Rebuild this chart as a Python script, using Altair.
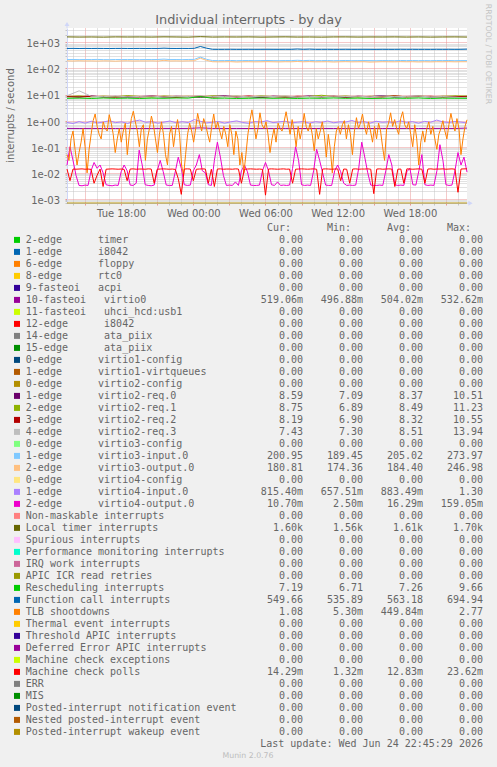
import altair as alt
import pandas as pd

NB = "\u00a0"
FONT = "DejaVu Sans"
MONO = "DejaVu Sans Mono"
TXT = "#666666"

T_START = "2026-06-23 13:30:00"
T_END = "2026-06-24 22:45:00"
Y_DOMAIN = [7.0e-4, 3550.0]

# ---------------- legend table ----------------
legend_labels = [
    "2-edge      timer", "1-edge      i8042", "6-edge      floppy", "8-edge      rtc0",
    "9-fasteoi   acpi", "10-fasteoi   virtio0", "11-fasteoi   uhci_hcd:usb1", "12-edge      i8042",
    "14-edge      ata_piix", "15-edge      ata_piix", "0-edge      virtio1-config",
    "1-edge      virtio1-virtqueues", "0-edge      virtio2-config", "1-edge      virtio2-req.0",
    "2-edge      virtio2-req.1", "3-edge      virtio2-req.2", "4-edge      virtio2-req.3",
    "0-edge      virtio3-config", "1-edge      virtio3-input.0", "2-edge      virtio3-output.0",
    "0-edge      virtio4-config", "1-edge      virtio4-input.0", "2-edge      virtio4-output.0",
    "Non-maskable interrupts", "Local timer interrupts", "Spurious interrupts",
    "Performance monitoring interrupts", "IRQ work interrupts", "APIC ICR read retries",
    "Rescheduling interrupts", "Function call interrupts", "TLB shootdowns",
    "Thermal event interrupts", "Threshold APIC interrupts", "Deferred Error APIC interrupts",
    "Machine check exceptions", "Machine check polls", "ERR", "MIS",
    "Posted-interrupt notification event", "Nested posted-interrupt event",
    "Posted-interrupt wakeup event",
]
legend_colors = [
    "#00CC00", "#0066B3", "#FF8000", "#FFCC00", "#330099", "#990099", "#CCFF00", "#FF0000",
    "#808080", "#008F00", "#00487D", "#B35A00", "#B38F00", "#6B006B", "#8FB300", "#B30000",
    "#BEBEBE", "#80FF80", "#80C9FF", "#FFC080", "#FFE680", "#AA80FF", "#EE00CC", "#FF8080",
    "#666600", "#FFBFFF", "#00FFCC", "#CC6699", "#999900", "#00CC00", "#0066B3", "#FF8000",
    "#FFCC00", "#330099", "#990099", "#CCFF00", "#FF0000", "#808080", "#008F00", "#00487D",
    "#B35A00", "#B38F00",
]
cur_values = [
    "0.00", "0.00", "0.00", "0.00", "0.00", "519.06m", "0.00", "0.00", "0.00", "0.00",
    "0.00", "0.00", "0.00", "8.59", "8.75", "8.19", "7.43", "0.00", "200.95", "180.81",
    "0.00", "815.40m", "10.70m", "0.00", "1.60k", "0.00", "0.00", "0.00", "0.00", "7.19",
    "549.66", "1.08", "0.00", "0.00", "0.00", "0.00", "14.29m", "0.00", "0.00", "0.00",
    "0.00", "0.00",
]
min_values = [
    "0.00", "0.00", "0.00", "0.00", "0.00", "496.88m", "0.00", "0.00", "0.00", "0.00",
    "0.00", "0.00", "0.00", "7.09", "6.89", "6.90", "7.30", "0.00", "189.45", "174.36",
    "0.00", "657.51m", "2.50m", "0.00", "1.56k", "0.00", "0.00", "0.00", "0.00", "6.71",
    "535.89", "5.30m", "0.00", "0.00", "0.00", "0.00", "1.32m", "0.00", "0.00", "0.00",
    "0.00", "0.00",
]
avg_values = [
    "0.00", "0.00", "0.00", "0.00", "0.00", "504.02m", "0.00", "0.00", "0.00", "0.00",
    "0.00", "0.00", "0.00", "8.37", "8.49", "8.32", "8.51", "0.00", "205.02", "184.40",
    "0.00", "883.49m", "16.29m", "0.00", "1.61k", "0.00", "0.00", "0.00", "0.00", "7.26",
    "563.18", "449.84m", "0.00", "0.00", "0.00", "0.00", "12.83m", "0.00", "0.00", "0.00",
    "0.00", "0.00",
]
max_values = [
    "0.00", "0.00", "0.00", "0.00", "0.00", "532.62m", "0.00", "0.00", "0.00", "0.00",
    "0.00", "0.00", "0.00", "10.51", "11.23", "10.55", "13.94", "0.00", "273.97", "246.98",
    "0.00", "1.30", "159.05m", "0.00", "1.70k", "0.00", "0.00", "0.00", "0.00", "9.66",
    "694.94", "2.77", "0.00", "0.00", "0.00", "0.00", "23.62m", "0.00", "0.00", "0.00",
    "0.00", "0.00",
]
header_labels = ["Cur:", "Min:", "Avg:", "Max:"]
last_update = "Last update: Wed Jun 24 22:45:29 2026"

# ---------------- series ----------------
local_timer = [1620, 1600, 1610, 1590, 1620, 1605, 1615, 1600, 1625, 1610, 1590, 1650,
               1600, 1615, 1605, 1620, 1595, 1610, 1625, 1600, 1610, 1590, 1615, 1620,
               1600, 1610, 1605, 1620, 1600, 1615, 1595, 1610, 1620, 1600]
function_call = [585, 588, 583, 586, 584, 587, 585, 582, 586, 588, 584, 585, 587, 583, 586, 585,
                 600, 586, 584, 587, 585, 592, 695, 600,
                 541, 539, 540, 542, 538, 540, 541, 539, 540, 542, 540, 539, 541, 540, 555,
                 540, 550, 539, 540, 541, 538, 540, 542, 539, 540, 541, 540, 538, 541, 540,
                 539, 542, 540, 541, 539, 540, 538, 541, 540, 542, 539, 541, 549.66]
virtio3_input = [219, 221, 218, 220, 219, 222, 218, 217, 220, 219, 221, 219, 218, 220, 219, 221,
                 228, 219, 220, 218, 221, 222, 274, 225,
                 201, 199, 200, 202, 198, 200, 201, 199, 200, 202, 200, 199, 201, 200, 206,
                 200, 204, 199, 200, 201, 198, 200, 202, 199, 200, 201, 200, 198, 201, 200,
                 199, 202, 200, 201, 199, 200, 198, 201, 200, 202, 199, 201, 200.95]
virtio3_output = [196, 193, 197, 194, 195, 192, 196, 194, 190, 195, 197, 193, 195, 194, 196, 192,
                  205, 194, 195, 193, 196, 198, 247, 205,
                  181, 179, 180, 182, 176, 180, 181, 179, 180, 182, 180, 178, 181, 180, 185,
                  180, 183, 179, 180, 181, 176, 180, 182, 179, 180, 181, 175, 178, 181, 180,
                  179, 182, 180, 181, 177, 180, 178, 181, 180, 182, 179, 181, 180.81]
virtio0 = [0.505, 0.503, 0.506, 0.502, 0.504, 0.505, 0.503, 0.504, 0.506, 0.502, 0.505, 0.53,
           0.505, 0.503, 0.504, 0.502, 0.505, 0.503, 0.506, 0.504, 0.502, 0.505, 0.503, 0.504,
           0.506, 0.502, 0.504, 0.503, 0.505, 0.502, 0.504, 0.506, 0.503, 0.519]
virtio2_req0 = [8.6, 8.2, 8.9, 8.1, 8.5, 7.9, 8.4, 8.8, 8.0, 8.6, 8.3, 7.8, 8.5, 9.0, 8.2, 8.4,
                7.6, 8.7, 8.3, 8.1, 8.9, 8.2, 8.5, 7.9, 8.6, 8.3, 9.2, 8.0, 8.4, 8.7, 8.1, 8.5,
                8.2, 8.59]
virtio2_req1 = [8.4, 8.9, 8.2, 8.7, 8.3, 9.1, 8.5, 8.0, 8.8, 8.4, 8.6, 8.2, 9.0, 8.3, 8.7, 8.1,
                8.9, 8.4, 8.6, 8.2, 8.5, 9.4, 8.3, 8.8, 8.0, 8.6, 8.4, 8.9, 8.2, 8.7, 8.3, 8.6,
                8.9, 8.75]
virtio2_req2 = [8.3, 8.0, 8.6, 8.2, 7.9, 8.5, 8.1, 8.7, 8.3, 7.8, 8.4, 8.6, 8.0, 8.5, 8.2, 8.8,
                8.1, 8.3, 7.9, 8.6, 8.4, 8.2, 8.7, 8.0, 8.5, 8.3, 8.1, 8.9, 8.2, 8.4, 8.6, 8.0,
                8.5, 8.19]
virtio2_req3 = [9.0, 13.9, 8.6, 8.3, 8.8, 8.2, 8.5, 8.7, 8.1, 8.6, 8.4, 8.9, 8.3, 8.5, 8.7, 8.2,
                8.6, 8.4, 8.8, 8.1, 8.5, 8.3, 8.7, 8.4, 8.6, 8.2, 8.8, 8.3, 8.5, 8.7, 8.2, 8.4,
                8.0, 7.43]
rescheduling = [7.2, 7.3, 7.1, 7.4, 7.2, 7.3, 7.1, 7.3, 7.2, 7.4, 7.3, 8.4, 7.2, 7.3, 7.1, 7.2,
                7.4, 7.2, 7.3, 7.1, 7.3, 7.2, 7.4, 7.2, 7.3, 7.1, 7.2, 7.3, 7.2, 7.4, 7.1, 7.3,
                7.2, 7.19]
virtio4_input = [0.85, 0.78, 0.92, 0.80, 0.95, 0.82, 0.88, 1.0, 0.84, 0.90,
                 0.78, 0.95, 1.05, 0.86, 0.92, 0.80, 0.88, 0.97, 0.83, 0.91,
                 0.85, 1.1, 0.95, 0.82, 0.87, 0.93, 0.80, 0.9, 0.98, 0.85,
                 0.79, 0.92, 0.88, 1.0, 0.84, 0.9, 0.95, 0.82, 0.87, 0.93,
                 0.8, 0.91, 0.86, 0.97, 0.83, 0.9, 0.88, 1.02, 0.85, 0.92,
                 0.8, 0.95, 0.87, 0.9, 0.84, 0.98, 0.86, 0.92, 0.8, 0.94,
                 0.87, 1.05, 0.9, 0.85, 0.93, 0.88, 0.815]
virtio4_output = [0.02, 0.1, 0.03, 0.008, 0.0033, 0.0032, 0.0034, 0.0033, 0.012, 0.025,
                  0.015, 0.02, 0.01, 0.0035, 0.0033, 0.0032, 0.0034, 0.0033, 0.011, 0.02,
                  0.012, 0.0034, 0.0033, 0.004, 0.074, 0.02, 0.0035, 0.0033, 0.0032, 0.0034,
                  0.012, 0.03, 0.011, 0.0034, 0.0033, 0.0033, 0.011, 0.04, 0.015, 0.0035,
                  0.0033, 0.0034, 0.012, 0.02, 0.05, 0.012, 0.01, 0.0035, 0.0033, 0.03,
                  0.15, 0.04, 0.008, 0.0033, 0.0034, 0.0033, 0.0045, 0.0033, 0.012, 0.02,
                  0.011, 0.0034, 0.0033, 0.0033, 0.0034, 0.012, 0.025, 0.012, 0.0035, 0.0033,
                  0.0045, 0.0033, 0.0034, 0.0033, 0.0034, 0.015, 0.1, 0.03, 0.0035, 0.0033,
                  0.0034, 0.0033, 0.012, 0.08, 0.03, 0.01, 0.0034, 0.0033, 0.0033, 0.012,
                  0.02, 0.011, 0.004, 0.0033, 0.0034, 0.0033, 0.0034, 0.015, 0.15, 0.04,
                  0.01, 0.0034, 0.0033, 0.0033, 0.0034, 0.0033, 0.012, 0.05, 0.02, 0.0035,
                  0.0033, 0.0034, 0.0033, 0.011, 0.015, 0.0035, 0.0034, 0.012, 0.05, 0.0035,
                  0.0033, 0.0034, 0.0033, 0.012, 0.12, 0.03, 0.0035, 0.0033, 0.0034, 0.012,
                  0.06, 0.02, 0.04, 0.0107]
tlb_shootdowns = [0.05, 0.03, 0.2, 0.4, 0.08, 0.02, 0.06, 0.15, 0.5, 0.1,
                  0.01, 0.08, 0.3, 1.0, 1.8, 0.6, 0.3, 0.2, 0.9, 0.5,
                  0.4, 1.7, 0.8, 0.3, 0.06, 0.2, 0.5, 0.15, 0.4, 0.8,
                  0.05, 0.3, 1.2, 2.3, 0.9, 0.4, 0.1, 0.5, 0.7, 0.03,
                  0.2, 0.5, 1.5, 0.7, 0.2, 0.06, 0.3, 0.9, 0.3, 0.05,
                  0.02, 0.3, 0.6, 0.1, 0.4, 1.1, 0.3, 0.02, 0.008, 0.05,
                  0.3, 0.8, 0.4, 0.15, 0.5, 1.9, 0.8, 0.4, 1.2, 0.7,
                  0.3, 0.15, 0.6, 1.8, 0.5, 0.9, 0.4, 0.2, 0.6, 0.3,
                  0.1, 0.7, 0.3, 0.05, 0.4, 0.2, 0.02, 0.06, 0.01, 0.05,
                  0.3, 1.0, 2.6, 0.8, 0.2, 0.5, 2.0, 0.7, 0.5, 0.9,
                  0.3, 0.06, 0.2, 0.5, 0.15, 0.8, 0.5, 0.4, 0.9, 2.2,
                  0.8, 0.3, 1.1, 0.4, 0.1, 0.6, 0.2, 0.5, 1.9, 0.6,
                  0.4, 0.8, 0.3, 0.07, 0.5, 0.2, 0.4, 0.9, 0.3, 0.04,
                  0.3, 0.08, 0.01, 0.1, 0.4, 0.6, 0.3, 0.7, 1.0, 0.2,
                  0.7, 0.3, 0.05, 0.4, 1.3, 0.5, 0.8, 1.8, 0.6, 0.3,
                  0.9, 0.4, 0.15, 0.6, 0.2, 0.8, 0.4, 0.1, 0.03, 0.5,
                  0.8, 2.0, 0.6, 1.1, 0.5, 0.3, 1.2, 2.2, 0.7, 0.5,
                  0.9, 0.3, 0.1, 0.7, 0.2, 0.02, 0.15, 0.4, 0.15, 0.5,
                  0.9, 0.3, 0.6, 0.2, 0.08, 0.3, 0.5, 1.0, 0.4, 0.2,
                  0.7, 1.9, 0.8, 0.4, 1.2, 0.5, 0.05, 0.2, 0.6, 1.08]
machine_check_polls = [0.014, 0.005, 0.014, 0.0138, 0.014, 0.0142, 0.0138, 0.014, 0.0136, 0.004,
                       0.008, 0.014, 0.003, 0.0138, 0.014, 0.0142, 0.014, 0.0138, 0.014, 0.0136,
                       0.005, 0.014, 0.0142, 0.0138, 0.014, 0.014, 0.0138, 0.0142, 0.014, 0.004,
                       0.0138, 0.014, 0.0142, 0.014, 0.0138, 0.014, 0.0136, 0.006, 0.0015, 0.014,
                       0.0142, 0.014, 0.005, 0.0138, 0.014, 0.0142, 0.014, 0.004, 0.0138, 0.003,
                       0.014, 0.0142, 0.0138, 0.014, 0.014, 0.0138, 0.0142, 0.014, 0.004, 0.0138,
                       0.014, 0.0142, 0.014, 0.0138, 0.014, 0.0136, 0.0014, 0.014, 0.0142, 0.014,
                       0.0138, 0.014, 0.0142, 0.0138, 0.014, 0.004, 0.0138, 0.014, 0.0142, 0.014,
                       0.0138, 0.014, 0.0142, 0.0138, 0.0015, 0.014, 0.0142, 0.014, 0.0138, 0.014,
                       0.0142, 0.005, 0.014, 0.0138, 0.004, 0.014, 0.0142, 0.0138, 0.014, 0.014,
                       0.0142, 0.0138, 0.0016, 0.014, 0.0142, 0.0138, 0.014, 0.0142, 0.014, 0.003,
                       0.0138, 0.014, 0.004, 0.0142, 0.014, 0.0138, 0.014, 0.0142, 0.0138, 0.004,
                       0.014, 0.0142, 0.0138, 0.014, 0.014, 0.0142, 0.0138, 0.014, 0.0142, 0.0138,
                       0.0018, 0.014, 0.0142, 0.0143]

# drawing order follows the legend order; number = legend row (colour)
series_order = [
    (virtio0, 5), (virtio2_req0, 13), (virtio2_req1, 14), (virtio2_req2, 15),
    (virtio2_req3, 16), (virtio3_input, 18), (virtio3_output, 19), (virtio4_input, 21),
    (virtio4_output, 22), (local_timer, 24), (rescheduling, 29), (function_call, 30),
    (tlb_shootdowns, 31), (machine_check_polls, 36),
]


def frame(values):
    return pd.DataFrame({"t": pd.date_range(T_START, T_END, periods=len(values)), "v": values})


# ---------------- scales & axes ----------------
x_scale = alt.Scale(domain=[alt.DateTime(year=2026, month=6, date=23, hours=13, minutes=30),
                            alt.DateTime(year=2026, month=6, date=24, hours=22, minutes=45)],
                    nice=False)
y_scale = alt.Scale(type="log", domain=Y_DOMAIN, nice=False)

x_ticks = [alt.DateTime(year=2026, month=6, date=23 + h // 24, hours=h % 24) for h in range(14, 47)]
y_ticks = [k * 10.0 ** e for e in range(-4, 4) for k in range(1, 10)
           if Y_DOMAIN[0] <= k * 10.0 ** e <= Y_DOMAIN[1]]

MAJ_X = "hours(datum.value) % 3 == 0"
LOG = "(log(datum.value)/LN10)"
MAJ_Y = f"abs({LOG} - round({LOG})) < 0.001"
RED = "#eb9595"
GRAY = "#c4c4c4"

x_axis = alt.Axis(
    values=x_ticks, title=None, grid=True,
    gridColor={"condition": {"test": MAJ_X, "value": RED}, "value": GRAY},
    gridDash=[1, 1], gridWidth=1,
    ticks=True, tickSize=2, tickColor={"condition": {"test": MAJ_X, "value": RED}, "value": GRAY},
    domain=True, domainColor="#CFD6F8",
    labelExpr="hours(datum.value) % 6 == 0 ? timeFormat(datum.value, '%a %H:%M') : ''",
    labelFont=FONT, labelFontSize=10, labelColor=TXT, labelBaseline="alphabetic",
    labelPadding=11, labelOverlap=False, labelFlush=False,
)
y_axis = alt.Axis(
    values=y_ticks, title=None, grid=True,
    gridColor={"condition": {"test": MAJ_Y, "value": RED}, "value": GRAY},
    gridDash=[1, 1], gridWidth=1,
    ticks=True, tickSize=2, tickColor={"condition": {"test": MAJ_Y, "value": RED}, "value": GRAY},
    domain=True, domainColor="#CFD6F8",
    labelExpr=(f"{MAJ_Y} ? '1e' + (round({LOG}) < 0 ? '-' : '+') + "
               f"(abs(round({LOG})) < 10 ? '0' : '') + abs(round({LOG})) : ''"),
    labelFont=FONT, labelFontSize=10, labelColor=TXT, labelBaseline="alphabetic",
    labelOffset=4.4, labelPadding=5.5, labelOverlap=False, labelFlush=False,
)

X = alt.X("t:T", scale=x_scale, axis=x_axis)
Y = alt.Y("v:Q", scale=y_scale, axis=y_axis)

plot_layers = []
for values, row in series_order:
    plot_layers.append(
        alt.Chart(frame(values)).mark_line(color=legend_colors[row], strokeWidth=1)
        .encode(x=X, y=Y)
    )
# series that are all zero sit on the floor of the log scale
plot_layers.append(
    alt.Chart(pd.DataFrame({"t": [T_START], "v": [Y_DOMAIN[0]]}))
    .mark_rule(color=legend_colors[41], strokeWidth=1).encode(y=Y)
)
plot = alt.layer(*plot_layers)

# ---------------- legend ----------------
def show(s):
    return s if s[-1] in "mk" else s + NB

legend_df = pd.DataFrame({
    "row": list(range(len(legend_labels))),
    "label": [s.replace(" ", NB) for s in legend_labels],
    "color": legend_colors,
    "cur": [show(s) for s in cur_values],
    "min": [show(s) for s in min_values],
    "avg": [show(s) for s in avg_values],
    "max": [show(s) for s in max_values],
})
YL = alt.Y("row:Q", scale=alt.Scale(domain=[0, 41], range=[215.3, 707.3], nice=False, zero=False),
           axis=None)
COL_X = [236, 296, 356, 416]

legend_layers = [
    alt.Chart(legend_df).mark_square(size=36, opacity=1, yOffset=-3.4)
    .encode(x=alt.value(-50), y=YL, color=alt.Color("color:N", scale=None)),
    alt.Chart(legend_df).mark_text(align="left", baseline="alphabetic", font=MONO, fontSize=10,
                                   color=TXT).encode(x=alt.value(-41.2), y=YL, text="label:N"),
]
for col, cx in zip(["cur", "min", "avg", "max"], COL_X):
    legend_layers.append(
        alt.Chart(legend_df).mark_text(align="right", baseline="alphabetic", font=MONO,
                                       fontSize=10, color=TXT)
        .encode(x=alt.value(cx), y=YL, text=f"{col}:N")
    )
for h, cx in zip(header_labels, COL_X):
    legend_layers.append(
        alt.Chart(pd.DataFrame({"row": [-1], "txt": [h]}))
        .mark_text(align="right", baseline="alphabetic", font=MONO, fontSize=10, color=TXT)
        .encode(x=alt.value(cx - 12), y=YL, text="txt:N")
    )
legend_layers.append(
    alt.Chart(pd.DataFrame({"row": [42], "txt": [last_update.replace(" ", NB)]}))
    .mark_text(align="right", baseline="alphabetic", font=MONO, fontSize=10, color=TXT)
    .encode(x=alt.value(416), y=YL, text="txt:N")
)
legend = alt.layer(*legend_layers)

# ---------------- decorations ----------------
one = alt.Data(values=[{"a": 1}])
decor = [
    alt.Chart(one).mark_text(text="Individual interrupts - by day", font=FONT, fontSize=12.9,
                             color=TXT, align="center", baseline="alphabetic")
    .encode(x=alt.value(181.5), y=alt.value(-4)),
    alt.Chart(one).mark_text(text="interrupts / second", font=FONT, fontSize=10, color=TXT,
                             align="center", baseline="middle", angle=270)
    .encode(x=alt.value(-56), y=alt.value(87.5)),
    alt.Chart(one).mark_text(text="RRDTOOL / TOBI OETIKER", font=FONT, fontSize=7.8,
                             color="#c4c4c4", align="center", baseline="middle", angle=90)
    .encode(x=alt.value(420.5), y=alt.value(26)),
    alt.Chart(one).mark_text(text="Munin 2.0.76", font=FONT, fontSize=7.8, color="#bdbdbd",
                             align="center", baseline="alphabetic")
    .encode(x=alt.value(181), y=alt.value(730.3)),
    alt.Chart(one).mark_rule(color="#CFD6F8").encode(x=alt.value(0), y=alt.value(-3), y2=alt.value(0)),
    alt.Chart(one).mark_rule(color="#CFD6F8").encode(x=alt.value(400), x2=alt.value(403), y=alt.value(175)),
    alt.Chart(one).mark_point(shape="triangle-up", filled=True, size=24, color="#CFD6F8", opacity=1)
    .encode(x=alt.value(0), y=alt.value(-4)),
    alt.Chart(one).mark_point(shape="triangle-right", filled=True, size=24, color="#CFD6F8", opacity=1)
    .encode(x=alt.value(403.5), y=alt.value(175.3)),
]

chart = (
    alt.layer(plot, legend, *decor)
    .resolve_scale(y="independent")
    .properties(width=400, height=175,
                padding={"left": 67, "top": 28, "right": 30, "bottom": 564},
                autosize=alt.AutoSizeParams(type="none"),
                background="#F0F0F0")
    .configure_view(fill="white", stroke=None)
)

chart.save("out.html", embed_options={"renderer": "svg", "actions": False})
